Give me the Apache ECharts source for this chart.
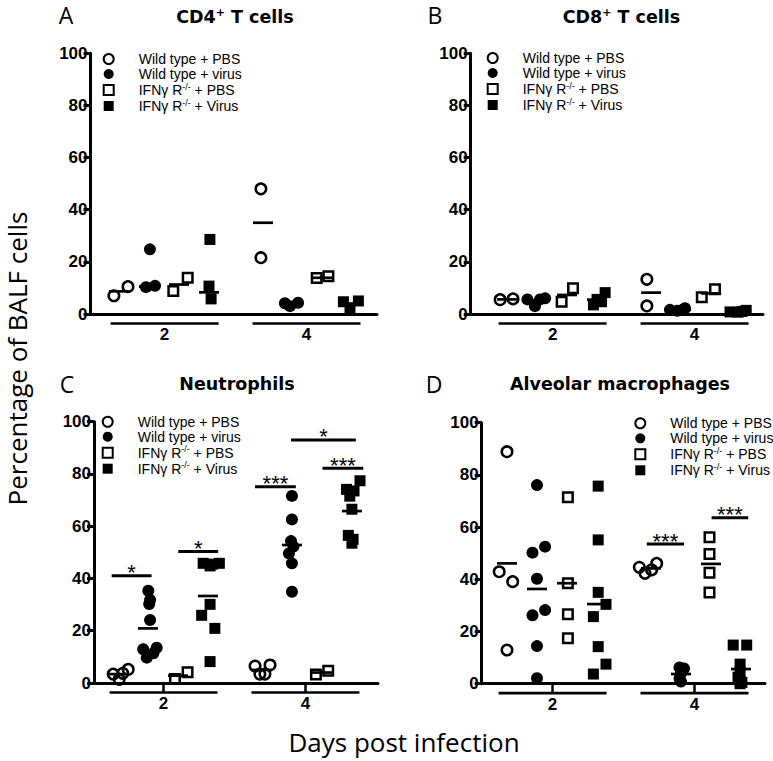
<!DOCTYPE html>
<html><head><meta charset="utf-8">
<script src="https://cdn.jsdelivr.net/npm/echarts@6/dist/echarts.min.js"></script>
<style>html,body{margin:0;padding:0;background:#fff}#c{width:773px;height:761px}</style>
</head><body><div id="c"></div><script>
// ---------------- data ----------------
const groupNames = ['Wild type + PBS', 'Wild type + virus', 'IFNγ R-/- + PBS', 'IFNγ R-/- + Virus'];
const dayLabels = ['2', '4'];
const yTicks = [0, 20, 40, 60, 80, 100];
const panelLetters = ['A', 'B', 'C', 'D'];
const panelTitles = [['CD4', '+', ' T cells'], ['CD8', '+', ' T cells'], ['Neutrophils'], ['Alveolar macrophages']];

// values[day][group] = list of % values
const cd4Values = [
  [[7.0, 10.5], [24.8, 10.3, 10.8], [8.8, 13.9], [28.6, 10.7, 5.8]],
  [[48.0, 21.6], [4.1, 3.0, 4.3], [13.8, 14.5], [4.7, 5.0, 2.2]]
];
const cd4Jitter = [
  [[-0.17, 0.3], [0.03, -0.1, 0.2], [-0.19, 0.29], [0.03, 0, 0.07]],
  [[-0.07, -0.07], [-0.27, -0.1, 0.17], [-0.21, 0.18], [-0.32, 0.18, -0.1]]
];
const cd4Means = [[8.7, 10.5, 11.3, 8.3], [35.0, 4.0, 13.9, 4.0]];

const cd8Values = [
  [[5.5, 5.8], [5.6, 3.0, 5.6, 6.0], [4.7, 9.9], [8.2, 5.6, 3.5, 4.7]],
  [[13.3, 3.1], [1.6, 1.2, 1.5, 2.2], [6.4, 9.5], [0.8, 0.7, 1.4, 1.0]]
];
const cd8Jitter = [
  [[-0.23, 0.2], [-0.32, -0.07, 0.1, 0.27], [-0.18, 0.2], [0.27, 0, -0.12, 0.15]],
  [[-0.14, -0.14], [-0.37, -0.13, 0.03, 0.13], [-0.31, 0.13], [-0.37, -0.1, 0.17, 0.03]]
];
const cd8Means = [[5.6, 5.2, 7.3, 5.5], [8.2, 1.6, 7.9, 1.0]];

const neuValues = [
  [[3.4, 1.4, 3.7, 5.2], [35.3, 31.8, 30.2, 24.1, 12.9, 9.7, 11.4, 13.5], [1.5, 4.1], [45.8, 44.8, 45.5, 45.8, 25.9, 30.1, 20.9, 8.2]],
  [[6.5, 3.4, 3.4, 6.9], [71.6, 62.6, 54.3, 52.2, 49.6, 45.8, 34.9], [3.3, 4.7], [77.4, 74.1, 73.5, 71.5, 66.5, 56.5, 55.0, 53.5]]
];
const neuJitter = [
  [[-0.16, 0.04, 0.16, 0.34], [0.01, 0.07, 0.04, 0.07, -0.16, -0.04, 0.18, 0.29], [-0.1, 0.32], [-0.16, 0.07, 0.16, 0.38, -0.21, 0.07, 0.23, 0.07]],
  [[-0.23, -0.07, 0.1, 0.27], [0, 0, -0.03, 0.05, -0.1, 0, 0], [-0.2, 0.21], [0.27, -0.18, 0.07, -0.07, 0, -0.12, 0.04, 0]]
];
const neuMeans = [[3.4, 20.9, 2.8, 33.3], [5.0, 52.8, 4.0, 65.8]];
// significance bars: [x from, x to, y level, label]
const neuSig = [[0.79, 2.12, 41.0, '*'], [3.01, 4.34, 50.3, '*'], [5.57, 6.93, 75.1, '***'], [7.82, 9.18, 82.2, '***'], [6.77, 8.93, 93.0, '*']];

const amValues = [
  [[88.9, 42.9, 39.1, 12.9], [76.1, 50.2, 52.5, 40.2, 26.2, 28.2, 14.4, 2.1], [71.4, 38.5, 26.6, 17.4], [75.7, 55.1, 35.0, 30.4, 25.7, 14.2, 7.5, 3.7]],
  [[44.6, 42.3, 43.6, 46.1], [6.2, 5.8, 4.0, 2.0, 0.8], [56.1, 49.7, 42.5, 34.9], [14.8, 14.8, 7.5, 4.5, 2.5, 1.0, 0.5, 0.0]]
];
const amJitter = [
  [[0, -0.26, 0.19, 0], [0, -0.15, 0.27, 0, -0.15, 0.27, 0, 0], [0.03, 0.03, 0.03, 0.03], [0.04, 0.04, 0.04, 0.3, -0.12, 0.04, 0.3, -0.12]],
  [[-0.39, -0.2, 0.02, 0.19], [-0.05, 0.1, 0, -0.05, 0], [-0.05, -0.05, -0.05, -0.05], [-0.26, 0.19, -0.03, -0.03, -0.1, -0.03, 0.03, -0.03]]
];
const amMeans = [[46.1, 36.3, 38.5, 30.5], [44.2, 3.7, 45.9, 5.6]];
const amSig = [[5.66, 6.9, 53.5, '***'], [7.82, 9.04, 63.6, '***']];

// ---------------- layout ----------------
const colU = [1, 2, 3, 4, 5.8, 6.8, 7.8, 8.8];
const dayCenters = [2.52, 7.25];
const dayHalf = 1.8;
const panels = [
  { values: cd4Values, jitter: cd4Jitter, means: cd4Means, sig: [] },
  { values: cd8Values, jitter: cd8Jitter, means: cd8Means, sig: [] },
  { values: neuValues, jitter: neuJitter, means: neuMeans, sig: neuSig },
  { values: amValues, jitter: amJitter, means: amMeans, sig: amSig }
];
const layout = [
  { left: 90.5, top: 53.3, width: 286.5, height: 260.7, xmin: 0.05, xmax: 9.6, ticks: false, lg: [102.7, 52], tt: [235, 16.5], lt: [66, 14] },
  { left: 470.7, top: 53.3, width: 292.3, height: 260.7, xmin: -0.21, xmax: 9.53, ticks: false, lg: [486.7, 51], tt: [621.5, 16.5], lt: [435, 14] },
  { left: 94, top: 421.7, width: 284, height: 261.3, xmin: 0.2, xmax: 9.67, ticks: true, lg: [101.7, 414.7], tt: [237, 384], lt: [67, 383] },
  { left: 481.7, top: 422.7, width: 283.3, height: 261, xmin: 0.157, xmax: 9.6, ticks: true, lg: [634.3, 416.3], tt: [620, 384], lt: [434, 383] }
];

const legendRich = {
  n: { fontFamily: 'Liberation Sans', fontSize: 14, color: '#000' },
  s: { fontFamily: 'Liberation Sans', fontSize: 9, color: '#000', padding: [0, 0, 7, 0] }
};
function legendFmt(name) {
  if (name.indexOf('IFN') === 0) {
    return '{n|IFNγ R}{s|-/-}{n|' + name.slice(9) + '}';
  }
  return '{n|' + name + '}';
}

const grids = [], xAxes = [], yAxes = [], series = [], legends = [], graphics = [];
panels.forEach((P, p) => {
  const L = layout[p];
  grids.push({ left: L.left, top: L.top, width: L.width, height: L.height, containLabel: false, outerBoundsMode: 'none' });
  xAxes.push({
    type: 'value', gridIndex: p, min: L.xmin, max: L.xmax,
    axisLine: { show: true, onZero: false, lineStyle: { color: '#000', width: 3 } },
    axisTick: { show: L.ticks, customValues: dayCenters, length: 9.5, lineStyle: { color: '#000', width: 2.5 } },
    axisLabel: {
      customValues: dayCenters, margin: 12, color: '#000', fontFamily: 'Liberation Sans', fontWeight: 'bold', fontSize: 17,
      formatter: v => { const i = dayCenters.findIndex(c => Math.abs(c - v) < 1e-6); return i >= 0 ? dayLabels[i] : ''; }
    },
    splitLine: { show: false }
  });
  yAxes.push({
    type: 'value', gridIndex: p, min: yTicks[0], max: yTicks[yTicks.length - 1], interval: yTicks[1] - yTicks[0],
    axisLine: { show: true, onZero: false, lineStyle: { color: '#000', width: 3 } },
    axisTick: { show: true, length: 7, lineStyle: { color: '#000', width: 3 } },
    axisLabel: { margin: 3, color: '#000', fontFamily: 'Liberation Sans', fontWeight: 'bold', fontSize: 17 },
    splitLine: { show: false }
  });
  groupNames.forEach((gname, g) => {
    const hollow = (g === 0 || g === 2);
    const data = [];
    [0, 1].forEach(d => {
      P.values[d][g].forEach((v, i) => data.push([colU[d * 4 + g] + P.jitter[d][g][i], v]));
    });
    series.push({
      type: 'scatter', name: gname, xAxisIndex: p, yAxisIndex: p,
      symbol: g < 2 ? 'circle' : 'rect',
      symbolSize: g < 2 ? (hollow ? 10.5 : 12) : (hollow ? 9.5 : 11),
      itemStyle: hollow ? { color: 'rgba(255,255,255,0)', borderColor: '#000', borderWidth: 2.5, opacity: 1 } : { color: '#000', borderWidth: 0, opacity: 1 },
      data: data, z: 3, silent: true
    });
  });
  // mean lines
  const md = [];
  [0, 1].forEach(d => P.means[d].forEach((m, g) => md.push([colU[d * 4 + g], m])));
  series.push({
    type: 'scatter', name: 'mean', xAxisIndex: p, yAxisIndex: p, symbol: 'rect', symbolSize: [20, 2.7],
    itemStyle: { color: '#000', opacity: 1 }, data: md, z: 4, silent: true
  });
  // day group lines beneath the x axis
  series.push({
    type: 'custom', name: 'days', xAxisIndex: p, yAxisIndex: p, clip: false, silent: true, z: 2,
    data: dayCenters.map(c => [c, 0]),
    renderItem: (params, api) => {
      const c = api.value(0);
      const p0 = api.coord([c - dayHalf, 0]);
      const p1 = api.coord([c + dayHalf, 0]);
      return { type: 'line', shape: { x1: p0[0], y1: p0[1] + 9.5, x2: p1[0], y2: p1[1] + 9.5 }, style: { stroke: '#000', lineWidth: 2.7 } };
    }
  });
  if (P.sig.length) {
    series.push({
      type: 'custom', name: 'sig', xAxisIndex: p, yAxisIndex: p, clip: false, silent: true, z: 5,
      data: P.sig.map(s => [s[0], s[1], s[2]]),
      encode: { x: [0, 1], y: 2 },
      renderItem: (params, api) => {
        const s = P.sig[params.dataIndex];
        const p0 = api.coord([api.value(0), api.value(2)]);
        const p1 = api.coord([api.value(1), api.value(2)]);
        return {
          type: 'group', children: [
            { type: 'line', shape: { x1: p0[0], y1: p0[1], x2: p1[0], y2: p1[1] }, style: { stroke: '#000', lineWidth: 3 } },
            { type: 'text', x: (p0[0] + p1[0]) / 2, y: p0[1] - 3, style: { text: s[3], font: '22px "Liberation Sans"', fill: '#000', align: 'center', verticalAlign: 'middle' } }
          ]
        };
      }
    });
  }
  legends.push({
    orient: 'vertical', left: L.lg[0], top: L.lg[1], itemWidth: 10, itemHeight: 10, itemGap: 1, padding: 0,
    selectedMode: false, data: groupNames, formatter: legendFmt,
    itemStyle: { opacity: 1 },
    textStyle: { fontFamily: 'Liberation Sans', fontSize: 14, color: '#000', lineHeight: 14, padding: [0, 0, 0, 20], rich: legendRich }
  });
  // panel letter and title
  graphics.push({ type: 'text', x: L.lt[0], y: L.lt[1] + 1, silent: true,
    style: { text: panelLetters[p], font: '23px "Open Sans"', lineHeight: 20, fill: '#000', align: 'center', verticalAlign: 'middle' } });
  const t = panelTitles[p];
  const ttext = t.length === 3 ? '{t|' + t[0] + '}{s|' + t[1] + '}{t|' + t[2] + '}' : '{t|' + t[0] + '}';
  graphics.push({ type: 'text', x: L.tt[0], y: L.tt[1], silent: true,
    style: { text: ttext, fill: '#000', align: 'center', verticalAlign: 'middle',
      rich: { t: { font: 'bold 17.5px "DejaVu Sans"', fill: '#000' }, s: { font: 'bold 11px "DejaVu Sans"', fill: '#000', padding: [0, 0, 8, 0] } } } });
});

graphics.push({ type: 'text', x: 17, y: 358.5, rotation: Math.PI / 2, silent: true,
  style: { text: 'Percentage of BALF cells', font: '26px "Open Sans"', lineHeight: 26, fill: '#000', align: 'center', verticalAlign: 'middle' } });
graphics.push({ type: 'text', x: 404, y: 742, silent: true,
  style: { text: 'Days post infection', font: '26px "Open Sans"', lineHeight: 26, fill: '#000', align: 'center', verticalAlign: 'middle' } });

const chart = echarts.init(document.getElementById('c'), null, { renderer: 'svg' });
chart.setOption({
  animation: false,
  backgroundColor: '#fff',
  grid: grids, xAxis: xAxes, yAxis: yAxes, series: series, legend: legends, graphic: graphics
});
</script></body></html>
